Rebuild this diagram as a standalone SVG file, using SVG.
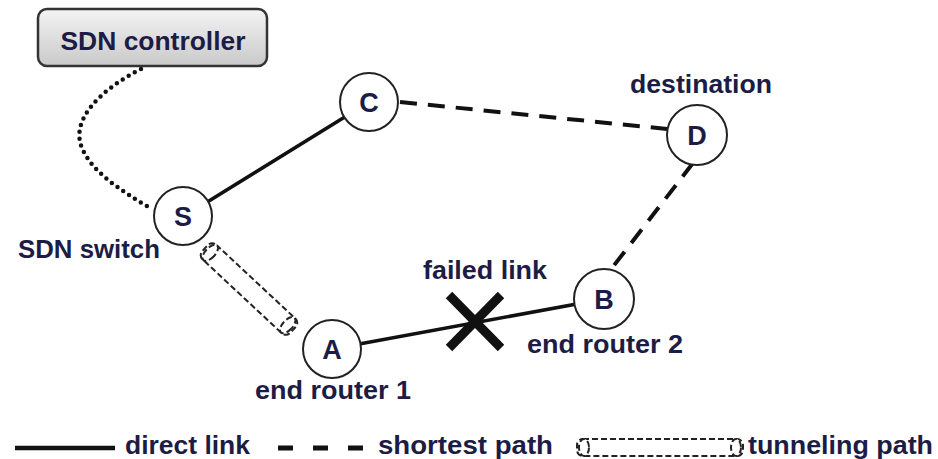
<svg xmlns="http://www.w3.org/2000/svg" width="938" height="459" viewBox="0 0 938 459">
<defs>
<linearGradient id="boxg" x1="0" y1="0" x2="0" y2="1">
<stop offset="0" stop-color="#f4f4f4"/>
<stop offset="1" stop-color="#c9c9c9"/>
</linearGradient>
<style>
.lbl{font-family:"Liberation Sans",Arial,sans-serif;font-weight:bold;fill:#1c1c44;font-size:25px}
.ltr{font-family:"Liberation Sans",Arial,sans-serif;font-weight:bold;fill:#1c1c44;font-size:27px;text-anchor:middle}
.node{fill:#fff;stroke:#222;stroke-width:2}
.solid{stroke:#111;stroke-width:3.5;fill:none}
.dash{stroke:#111;stroke-width:4;fill:none;stroke-dasharray:17 11}
.dot{stroke:#111;stroke-width:4.5;fill:none;stroke-dasharray:0 7;stroke-linecap:round}
.tun{stroke:#222;stroke-width:2;fill:#fff;stroke-dasharray:6 3}
</style>
</defs>
<rect width="938" height="459" fill="#fff"/>
<g id="connectors">
<path class="dot" d="M141,69 C100,90 70,120 82,148 C92,172 120,190 150,208"/>
<line class="solid" x1="183" y1="217" x2="369" y2="102"/>
<line class="dash" x1="400" y1="102" x2="667" y2="129"/>
<line class="dash" x1="693" y1="163" x2="612" y2="268"/>
<line class="solid" x1="332" y1="349" x2="604" y2="299"/>
<g id="tunnel" transform="translate(249,289) rotate(43)">
<rect class="tun" x="-60" y="-10" width="120" height="20" rx="6"/>
<ellipse class="tun" cx="-53" cy="0" rx="5" ry="10"/>
<ellipse class="tun" cx="53" cy="0" rx="5" ry="10" fill="none"/>
</g>
<g id="failed">
<line x1="449" y1="295" x2="501" y2="348" stroke="#111" stroke-width="9"/>
<line x1="501" y1="295" x2="449" y2="348" stroke="#111" stroke-width="9"/>
</g>
</g>
<g id="controller">
<rect x="38" y="9" width="229" height="57" rx="9" fill="url(#boxg)" stroke="#333" stroke-width="2.5"/>
<text class="lbl" x="153" y="50" text-anchor="middle" font-size="27" textLength="185" lengthAdjust="spacingAndGlyphs">SDN controller</text>
</g>
<g id="node-S">
<circle class="node" cx="183" cy="216" r="29"/>
<text class="ltr" x="183" y="226">S</text>
<text class="lbl" x="18" y="258" textLength="142" lengthAdjust="spacingAndGlyphs">SDN switch</text>
</g>
<g id="node-C">
<circle class="node" cx="369" cy="102" r="29"/>
<text class="ltr" x="369" y="112">C</text>
</g>
<g id="node-D">
<circle class="node" cx="697" cy="135" r="30"/>
<text class="ltr" x="697" y="145">D</text>
<text class="lbl" x="630" y="93" textLength="142" lengthAdjust="spacingAndGlyphs">destination</text>
</g>
<g id="node-A">
<circle class="node" cx="332" cy="349" r="29"/>
<text class="ltr" x="332" y="359">A</text>
<text class="lbl" x="255" y="399" textLength="156" lengthAdjust="spacingAndGlyphs">end router 1</text>
</g>
<g id="node-B">
<circle class="node" cx="604" cy="299" r="30"/>
<text class="ltr" x="604" y="309">B</text>
<text class="lbl" x="527" y="353" textLength="156" lengthAdjust="spacingAndGlyphs">end router 2</text>
</g>
<text class="lbl" x="423" y="279" textLength="124" lengthAdjust="spacingAndGlyphs">failed link</text>
<g id="legend">
<line x1="15" y1="448" x2="115" y2="448" stroke="#111" stroke-width="4.5"/>
<text class="lbl" x="125" y="454" textLength="125" lengthAdjust="spacingAndGlyphs">direct link</text>
<line x1="278" y1="448" x2="364" y2="448" stroke="#111" stroke-width="5" stroke-dasharray="15 20"/>
<text class="lbl" x="378" y="454" textLength="175" lengthAdjust="spacingAndGlyphs">shortest path</text>
<rect class="tun" x="577" y="439" width="166" height="17" rx="6"/>
<ellipse class="tun" cx="584" cy="447.5" rx="5" ry="8.5"/>
<ellipse class="tun" cx="736" cy="447.5" rx="5" ry="8.5" fill="none"/>
<text class="lbl" x="748" y="454" textLength="185" lengthAdjust="spacingAndGlyphs">tunneling path</text>
</g>
</svg>
